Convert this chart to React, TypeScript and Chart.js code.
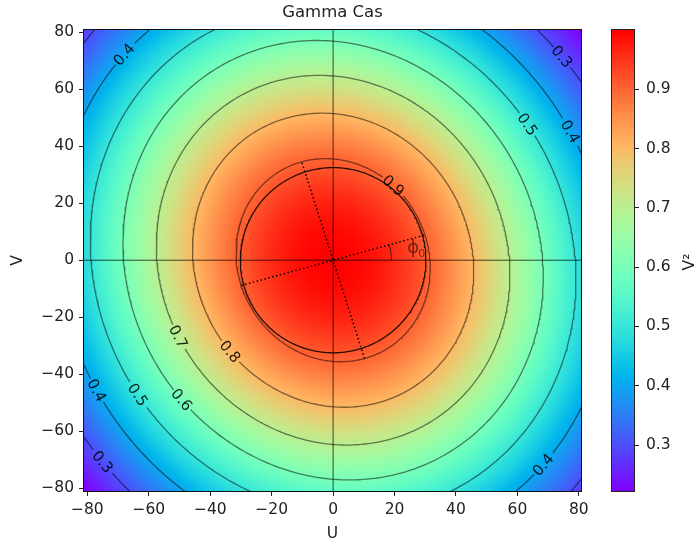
import React, { useEffect, useRef } from 'react';
import { Chart, registerables } from 'chart.js';

Chart.register(...registerables);

// ---------- text ----------
const TITLE = 'Gamma Cas';
const X_LABEL = 'U';
const Y_LABEL = 'V';
const CB_LABEL = 'V²';
const PHI_TEXT = 'ϕ';
const PHI_SUB = '0';

// ---------- axes ----------
const U_RANGE = [-81.1, 80.7];
const V_RANGE = [-81.0, 80.8];
const U_TICKS = [-80, -60, -40, -20, 0, 20, 40, 60, 80];
const V_TICKS = [-80, -60, -40, -20, 0, 20, 40, 60, 80];
const CB_RANGE = [0.2225, 0.9998];
const CB_TICKS = [0.3, 0.4, 0.5, 0.6, 0.7, 0.8, 0.9];

// ---------- model (elliptical uniform disk) ----------
const CONTOUR_LEVELS = [0.3, 0.4, 0.5, 0.6, 0.7, 0.8, 0.9];
const REF_LEVEL = 0.9; // contour whose semi-axes are read below
const REF_SEMI_MINOR = 31.2; // along phi0
const REF_SEMI_MAJOR = 36.0; // along phi0 + 90
const PHI0_DEG = 16.5;
const CIRCLE_SEMI_U = 30.2;
const CIRCLE_SEMI_V = 32.5;
const PHI_ARC_RADIUS = 19;

// contour labels: level and polar angle (deg) where the label sits
const LABEL_LEVELS = [0.4, 0.3, 0.5, 0.4, 0.9, 0.7, 0.8, 0.4, 0.5, 0.6, 0.3, 0.4];
const LABEL_ANGLES = [133.3, 43.8, 37, 30.3, 53.2, 208, 223.7, 210.7, 216.6, 224.8, 223.3, 313.6];
const PHI_TEXT_AT = [26.1, 4.2];

// ---------- style ----------
const FONT = "'DejaVu Sans', sans-serif";
const TEXT_COLOR = '#222';
const TICK_SIZE = 15.5;
const TITLE_SIZE = 16.5;
const LABEL_SIZE = 15;
const LABEL_GAP = 14;

// ---------- helpers ----------
function besselJ1(x: number): number {
  const q = (x * x) / 4;
  let term = x / 2;
  let sum = 0;
  for (let k = 0; k < 30; k++) {
    sum += term;
    term *= -q / ((k + 1) * (k + 2));
  }
  return sum;
}
function udVis2(x: number): number {
  if (x < 1e-9) return 1;
  const v = (2 * besselJ1(x)) / x;
  return v * v;
}
function argForLevel(L: number): number {
  let lo = 0;
  let hi = 3.8;
  for (let i = 0; i < 60; i++) {
    const mid = (lo + hi) / 2;
    if (udVis2(mid) > L) lo = mid;
    else hi = mid;
  }
  return (lo + hi) / 2;
}
const PHI0 = (PHI0_DEG * Math.PI) / 180;
const CP = Math.cos(PHI0);
const SP = Math.sin(PHI0);
const X_REF = argForLevel(REF_LEVEL);

function vis2At(u: number, v: number): number {
  const up = u * CP + v * SP;
  const vp = -u * SP + v * CP;
  return udVis2(X_REF * Math.hypot(up / REF_SEMI_MINOR, vp / REF_SEMI_MAJOR));
}
function contourPts(L: number, n = 480) {
  const k = argForLevel(L) / X_REF;
  const A = REF_SEMI_MINOR * k;
  const B = REF_SEMI_MAJOR * k;
  const pts: { x: number; y: number }[] = [];
  for (let i = 0; i <= n; i++) {
    const t = (2 * Math.PI * i) / n;
    const a = A * Math.cos(t);
    const b = B * Math.sin(t);
    pts.push({ x: a * CP - b * SP, y: a * SP + b * CP });
  }
  return pts;
}
function contourAtPolar(L: number, thetaDeg: number) {
  const th = (thetaDeg * Math.PI) / 180;
  const c = Math.cos(th);
  const s = Math.sin(th);
  const up = c * CP + s * SP;
  const vp = -c * SP + s * CP;
  const r = argForLevel(L) / X_REF / Math.hypot(up / REF_SEMI_MINOR, vp / REF_SEMI_MAJOR);
  return { x: r * c, y: r * s };
}
function rainbow(t: number): [number, number, number] {
  const c = (v: number) => Math.max(0, Math.min(1, v));
  t = c(t);
  return [c(Math.abs(2 * t - 0.5)) * 255, c(Math.sin(Math.PI * t)) * 255, c(Math.cos((Math.PI * t) / 2)) * 255];
}
const fmt = (v: number) => (v < 0 ? '\u2212' + Math.abs(v) : String(v));

function labelPx(chart: any, i: number) {
  const p = contourAtPolar(LABEL_LEVELS[i], LABEL_ANGLES[i]);
  return { x: chart.scales.x.getPixelForValue(p.x), y: chart.scales.y.getPixelForValue(p.y) };
}

const heatmapPlugin = {
  id: 'heatmap',
  beforeDatasetsDraw(chart: any) {
    const { ctx, chartArea, scales } = chart;
    const L = Math.round(chartArea.left);
    const T = Math.round(chartArea.top);
    const w = Math.round(chartArea.right) - L;
    const h = Math.round(chartArea.bottom) - T;
    const img = ctx.createImageData(w, h);
    const span = CB_RANGE[1] - CB_RANGE[0];
    for (let j = 0; j < h; j++) {
      const v = scales.y.getValueForPixel(T + j + 0.5);
      for (let i = 0; i < w; i++) {
        const u = scales.x.getValueForPixel(L + i + 0.5);
        const val = vis2At(u, v);
        const [r, g, b] = rainbow((val - CB_RANGE[0]) / span);
        const k = (j * w + i) * 4;
        img.data[k] = r;
        img.data[k + 1] = g;
        img.data[k + 2] = b;
        img.data[k + 3] = 255;
      }
    }
    ctx.putImageData(img, L, T);
  },
  afterDatasetsDraw(chart: any) {
    const { ctx, chartArea, scales } = chart;
    ctx.save();
    ctx.beginPath();
    ctx.rect(chartArea.left, chartArea.top, chartArea.right - chartArea.left, chartArea.bottom - chartArea.top);
    ctx.clip();
    ctx.font = `${LABEL_SIZE}px ${FONT}`;
    ctx.fillStyle = 'rgba(0,0,0,0.85)';
    ctx.textAlign = 'center';
    ctx.textBaseline = 'middle';
    for (let i = 0; i < LABEL_LEVELS.length; i++) {
      const p = labelPx(chart, i);
      const q1 = contourAtPolar(LABEL_LEVELS[i], LABEL_ANGLES[i] - 0.5);
      const q2 = contourAtPolar(LABEL_LEVELS[i], LABEL_ANGLES[i] + 0.5);
      let ang = Math.atan2(
        scales.y.getPixelForValue(q2.y) - scales.y.getPixelForValue(q1.y),
        scales.x.getPixelForValue(q2.x) - scales.x.getPixelForValue(q1.x)
      );
      if (ang > Math.PI / 2) ang -= Math.PI;
      if (ang < -Math.PI / 2) ang += Math.PI;
      ctx.save();
      ctx.translate(p.x, p.y);
      ctx.rotate(ang);
      ctx.fillText(LABEL_LEVELS[i].toFixed(1), 0, 1);
      ctx.restore();
    }
    // phi0 annotation
    const px = scales.x.getPixelForValue(PHI_TEXT_AT[0]);
    const py = scales.y.getPixelForValue(PHI_TEXT_AT[1]);
    ctx.fillStyle = 'rgba(0,0,0,0.55)';
    ctx.font = `18px ${FONT}`;
    ctx.fillText(PHI_TEXT, px, py);
    ctx.font = `11px ${FONT}`;
    ctx.fillText(PHI_SUB, px + 8.5, py + 6);
    ctx.restore();
  },
  afterDraw(chart: any) {
    const { ctx, chartArea } = chart;
    ctx.save();
    ctx.strokeStyle = '#111';
    ctx.lineWidth = 1;
    ctx.strokeRect(
      Math.round(chartArea.left) - 0.5,
      Math.round(chartArea.top) - 0.5,
      Math.round(chartArea.right - chartArea.left) + 1,
      Math.round(chartArea.bottom - chartArea.top) + 1
    );
    ctx.fillStyle = TEXT_COLOR;
    ctx.font = `${TITLE_SIZE}px ${FONT}`;
    ctx.textAlign = 'center';
    ctx.textBaseline = 'middle';
    ctx.fillText(TITLE, (chartArea.left + chartArea.right) / 2, 13);
    ctx.restore();
  },
};

const colorbarPlugin = {
  id: 'colorbar',
  beforeDraw(chart: any) {
    const { ctx, chartArea, scales } = chart;
    ctx.save();
    const T = Math.round(chartArea.top);
    const B = Math.round(chartArea.bottom);
    const span = CB_RANGE[1] - CB_RANGE[0];
    for (let y = T; y < B; y++) {
      const val = scales.y.getValueForPixel(y + 0.5);
      const [r, g, b] = rainbow((val - CB_RANGE[0]) / span);
      ctx.fillStyle = `rgb(${r},${g},${b})`;
      ctx.fillRect(chartArea.left, y, chartArea.right - chartArea.left, 1);
    }
    ctx.restore();
  },
  afterDraw(chart: any) {
    const { ctx, chartArea } = chart;
    ctx.save();
    ctx.strokeStyle = '#222';
    ctx.lineWidth = 1;
    ctx.strokeRect(
      Math.round(chartArea.left) - 0.5,
      Math.round(chartArea.top) - 0.5,
      Math.round(chartArea.right - chartArea.left) + 1,
      Math.round(chartArea.bottom - chartArea.top) + 1
    );
    ctx.translate(90, 262);
    ctx.rotate(-Math.PI / 2);
    ctx.fillStyle = TEXT_COLOR;
    ctx.font = `${TICK_SIZE}px ${FONT}`;
    ctx.textAlign = 'center';
    ctx.textBaseline = 'middle';
    ctx.fillText(CB_LABEL, 0, 0);
    ctx.restore();
  },
};

function tickFont() {
  return { family: FONT, size: TICK_SIZE };
}

export default function App() {
  const mainRef = useRef<HTMLCanvasElement>(null);
  const cbRef = useRef<HTMLCanvasElement>(null);

  useEffect(() => {
    const contourSets = CONTOUR_LEVELS.map((L) => ({
      type: 'line' as const,
      data: contourPts(L),
      borderColor: 'rgba(0,0,0,0.5)',
      borderWidth: 1.3,
      pointRadius: 0,
      fill: false,
      tension: 0,
      clip: 0,
      labelIdx: LABEL_LEVELS.map((l, i) => (Math.abs(l - L) < 1e-6 ? i : -1)).filter((i) => i >= 0),
      segment: {
        borderColor: (sc: any) => {
          const ch = sc.chart;
          const ds = ch.data.datasets[sc.datasetIndex];
          const mx = (sc.p0.x + sc.p1.x) / 2;
          const my = (sc.p0.y + sc.p1.y) / 2;
          for (const i of ds.labelIdx) {
            const p = labelPx(ch, i);
            if (Math.hypot(mx - p.x, my - p.y) < LABEL_GAP) return 'rgba(0,0,0,0)';
          }
          return undefined;
        },
      },
    }));

    const circle: { x: number; y: number }[] = [];
    for (let i = 0; i <= 360; i++) {
      const t = (i * Math.PI) / 180;
      circle.push({ x: CIRCLE_SEMI_U * Math.cos(t), y: CIRCLE_SEMI_V * Math.sin(t) });
    }
    const arc: { x: number; y: number }[] = [];
    for (let i = 0; i <= 40; i++) {
      const t = (PHI0 * i) / 40;
      arc.push({ x: PHI_ARC_RADIUS * Math.cos(t), y: PHI_ARC_RADIUS * Math.sin(t) });
    }
    const line = (pts: { x: number; y: number }[], color: string, width: number, dash: number[] = []) => ({
      type: 'line' as const,
      data: pts,
      borderColor: color,
      borderWidth: width,
      borderDash: dash,
      pointRadius: 0,
      fill: false,
      tension: 0,
      clip: 0,
    });

    const datasets: any[] = [
      ...contourSets,
      line([{ x: U_RANGE[0], y: 0 }, { x: U_RANGE[1], y: 0 }], 'rgba(0,0,0,0.7)', 1),
      line([{ x: 0, y: V_RANGE[0] }, { x: 0, y: V_RANGE[1] }], 'rgba(0,0,0,0.7)', 1),
      line(circle, 'rgba(0,0,0,0.85)', 1.3),
      line(
        [
          { x: -REF_SEMI_MINOR * CP, y: -REF_SEMI_MINOR * SP },
          { x: REF_SEMI_MINOR * CP, y: REF_SEMI_MINOR * SP },
        ],
        '#000',
        1.5,
        [1.5, 2.5]
      ),
      line(
        [
          { x: REF_SEMI_MAJOR * SP, y: -REF_SEMI_MAJOR * CP },
          { x: -REF_SEMI_MAJOR * SP, y: REF_SEMI_MAJOR * CP },
        ],
        '#000',
        1.5,
        [1.5, 2.5]
      ),
      line(arc, 'rgba(0,0,0,0.6)', 1),
    ];

    const axisCommon = (ticks: number[], titleText: string, isX: boolean) => ({
      type: 'linear' as const,
      afterBuildTicks: (s: any) => {
        s.ticks = ticks.map((v) => ({ value: v }));
      },
      afterFit: (s: any) => {
        if (isX) s.height = 53;
        else s.width = 84;
      },
      grid: { drawOnChartArea: false, drawTicks: true, tickLength: 5, color: '#222', lineWidth: 1 },
      border: { display: false },
      ticks: {
        color: TEXT_COLOR,
        font: tickFont(),
        padding: 5,
        maxRotation: 0,
        autoSkip: false,
        callback: (v: any) => fmt(Number(v)),
      },
      title: {
        display: true,
        text: titleText,
        color: TEXT_COLOR,
        font: tickFont(),
        padding: isX ? { top: 0, bottom: 0.5 } : { top: 8.5, bottom: 0 },
      },
    });

    const main = new Chart(mainRef.current!, {
      type: 'scatter',
      data: { datasets },
      options: {
        animation: false,
        responsive: false,
        devicePixelRatio: 1,
        events: [],
        layout: { padding: { left: 0, top: 30, right: 116, bottom: 0 } },
        plugins: { legend: { display: false }, tooltip: { enabled: false }, title: { display: false } },
        scales: {
          x: { ...axisCommon(U_TICKS, X_LABEL, true), min: U_RANGE[0], max: U_RANGE[1] },
          y: { ...axisCommon(V_TICKS, Y_LABEL, false), min: V_RANGE[0], max: V_RANGE[1] },
        },
      } as any,
      plugins: [heatmapPlugin],
    });

    const cb = new Chart(cbRef.current!, {
      type: 'scatter',
      data: { datasets: [] },
      options: {
        animation: false,
        responsive: false,
        devicePixelRatio: 1,
        events: [],
        layout: { padding: { left: 12, top: 30, right: 0, bottom: 53 } },
        plugins: { legend: { display: false }, tooltip: { enabled: false } },
        scales: {
          x: { display: false },
          y: {
            type: 'linear',
            position: 'right',
            min: CB_RANGE[0],
            max: CB_RANGE[1],
            afterBuildTicks: (s: any) => {
              s.ticks = CB_TICKS.map((v) => ({ value: v }));
            },
            afterFit: (s: any) => {
              s.width = 63;
            },
            grid: { drawOnChartArea: false, drawTicks: true, tickLength: 5, color: '#222', lineWidth: 1 },
            border: { display: false },
            ticks: {
              color: TEXT_COLOR,
              font: tickFont(),
              padding: 7,
              autoSkip: false,
              callback: (v: any) => Number(v).toFixed(1),
            },
          },
        },
      } as any,
      plugins: [colorbarPlugin],
    });

    return () => {
      main.destroy();
      cb.destroy();
    };
  }, []);

  return (
    <div style={{ position: 'fixed', left: 0, top: 0, width: 697, height: 544, background: '#fff' }}>
      <canvas
        ref={mainRef}
        width={697}
        height={544}
        style={{ position: 'absolute', left: 0, top: 0, width: 697, height: 544 }}
      />
      <canvas
        ref={cbRef}
        width={97}
        height={544}
        style={{ position: 'absolute', left: 600, top: 0, width: 97, height: 544 }}
      />
    </div>
  );
}
